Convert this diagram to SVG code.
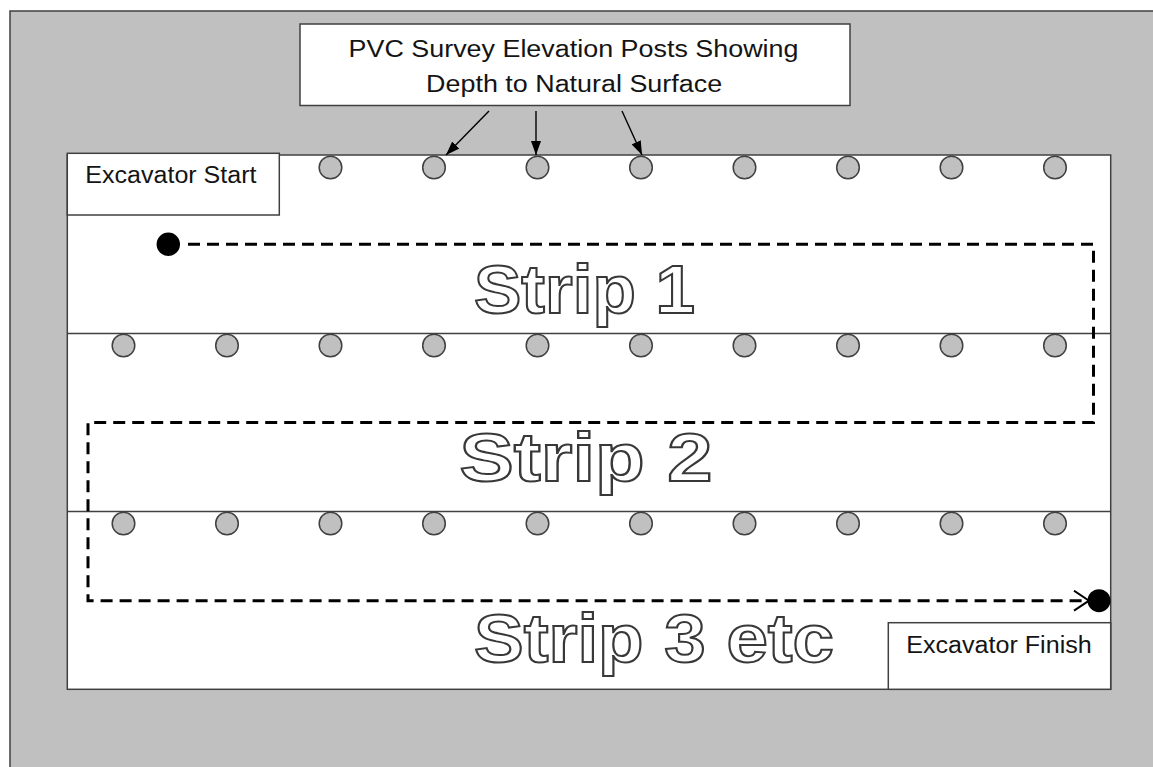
<svg xmlns="http://www.w3.org/2000/svg" width="1153" height="767" viewBox="0 0 1153 767">
  <style>
    .frame { fill: #ffffff; stroke: #404040; stroke-width: 1.5; }
    .label { font-family: "Liberation Sans", Arial, sans-serif; font-size: 23px; fill: #141414; }
    .strip { font-family: "Liberation Sans", Arial, sans-serif; font-weight: bold; font-size: 68px; fill: #ffffff; stroke: #383838; stroke-width: 2; }
    .post { fill: #c0c0c0; stroke: #404040; stroke-width: 1.5; }
    .divider { stroke: #404040; stroke-width: 1.5; fill: none; }
    .ptr { stroke: #000; stroke-width: 1.4; fill: none; }
    .route { stroke: #000; stroke-width: 3; fill: none; stroke-dasharray: 12 7; }
  </style>
  <defs>
    <marker id="ah" viewBox="0 0 14 10" refX="14" refY="5" markerWidth="14" markerHeight="10" markerUnits="userSpaceOnUse" orient="auto">
      <path d="M0,0 L14,5 L0,10 z" fill="#000"/>
    </marker>
    <marker id="chev" viewBox="0 0 17 22" refX="16" refY="11" markerWidth="17" markerHeight="22" markerUnits="userSpaceOnUse" orient="auto">
      <path d="M1,1 L16,11 L1,21" fill="none" stroke="#000" stroke-width="2"/>
    </marker>
  </defs>

  <g id="background">
    <rect x="10" y="11" width="1160" height="780" fill="#c0c0c0" stroke="#404040" stroke-width="1.5"/>
  </g>

  <g id="site">
    <rect class="frame" x="67.3" y="155" width="1043.4" height="534.3"/>
    <line class="divider" x1="67.3" y1="333.5" x2="1110.7" y2="333.5"/>
    <line class="divider" x1="67.3" y1="511.5" x2="1110.7" y2="511.5"/>
  </g>

  <g id="strip-1">
    <text class="strip" x="474" y="312.5" textLength="221" lengthAdjust="spacingAndGlyphs">Strip 1</text>
  </g>
  <g id="strip-2">
    <text class="strip" x="459.5" y="481" textLength="253" lengthAdjust="spacingAndGlyphs">Strip 2</text>
  </g>
  <g id="strip-3">
    <text class="strip" x="474" y="662" textLength="360" lengthAdjust="spacingAndGlyphs">Strip 3 etc</text>
  </g>

  <g id="pvc-label">
    <rect class="frame" x="300" y="24" width="550" height="81.5"/>
    <text class="label" x="348.5" y="57.3" textLength="450" lengthAdjust="spacingAndGlyphs">PVC Survey Elevation Posts Showing</text>
    <text class="label" x="426.1" y="91.7" textLength="296" lengthAdjust="spacingAndGlyphs">Depth to Natural Surface</text>
  </g>

  <g id="excavator-start">
    <rect class="frame" x="67.3" y="153.3" width="212" height="61.7"/>
    <text class="label" x="85.3" y="183.3" textLength="171.2" lengthAdjust="spacingAndGlyphs">Excavator Start</text>
  </g>

  <g id="excavator-finish">
    <rect class="frame" x="888.3" y="622.7" width="222.4" height="66.6"/>
    <text class="label" x="906.3" y="652.7" textLength="185.4" lengthAdjust="spacingAndGlyphs">Excavator Finish</text>
  </g>

  <g id="posts-row-1">
    <circle class="post" cx="330.5" cy="167.5" r="11.3"/>
    <circle class="post" cx="434" cy="167.5" r="11.3"/>
    <circle class="post" cx="537.5" cy="167.5" r="11.3"/>
    <circle class="post" cx="641" cy="167.5" r="11.3"/>
    <circle class="post" cx="744.5" cy="167.5" r="11.3"/>
    <circle class="post" cx="848" cy="167.5" r="11.3"/>
    <circle class="post" cx="951.5" cy="167.5" r="11.3"/>
    <circle class="post" cx="1055" cy="167.5" r="11.3"/>
  </g>
  <g id="posts-row-2">
    <circle class="post" cx="123.5" cy="345.5" r="11.3"/>
    <circle class="post" cx="227" cy="345.5" r="11.3"/>
    <circle class="post" cx="330.5" cy="345.5" r="11.3"/>
    <circle class="post" cx="434" cy="345.5" r="11.3"/>
    <circle class="post" cx="537.5" cy="345.5" r="11.3"/>
    <circle class="post" cx="641" cy="345.5" r="11.3"/>
    <circle class="post" cx="744.5" cy="345.5" r="11.3"/>
    <circle class="post" cx="848" cy="345.5" r="11.3"/>
    <circle class="post" cx="951.5" cy="345.5" r="11.3"/>
    <circle class="post" cx="1055" cy="345.5" r="11.3"/>
  </g>
  <g id="posts-row-3">
    <circle class="post" cx="123.5" cy="523.5" r="11.3"/>
    <circle class="post" cx="227" cy="523.5" r="11.3"/>
    <circle class="post" cx="330.5" cy="523.5" r="11.3"/>
    <circle class="post" cx="434" cy="523.5" r="11.3"/>
    <circle class="post" cx="537.5" cy="523.5" r="11.3"/>
    <circle class="post" cx="641" cy="523.5" r="11.3"/>
    <circle class="post" cx="744.5" cy="523.5" r="11.3"/>
    <circle class="post" cx="848" cy="523.5" r="11.3"/>
    <circle class="post" cx="951.5" cy="523.5" r="11.3"/>
    <circle class="post" cx="1055" cy="523.5" r="11.3"/>
  </g>

  <g id="start-point">
    <circle cx="168.3" cy="244.3" r="11.7" fill="#000"/>
  </g>
  <g id="finish-point">
    <circle cx="1099" cy="600.7" r="11.5" fill="#000"/>
  </g>

  <g id="connectors">
    <line class="ptr" x1="489" y1="111" x2="446" y2="155" marker-end="url(#ah)"/>
    <line class="ptr" x1="536" y1="111" x2="536" y2="155" marker-end="url(#ah)"/>
    <line class="ptr" x1="622" y1="111" x2="642" y2="155" marker-end="url(#ah)"/>
    <path class="route" d="M188,244.3 H1093.5 V422.5 H88 V600.7 H1089" marker-end="url(#chev)"/>
  </g>
</svg>
